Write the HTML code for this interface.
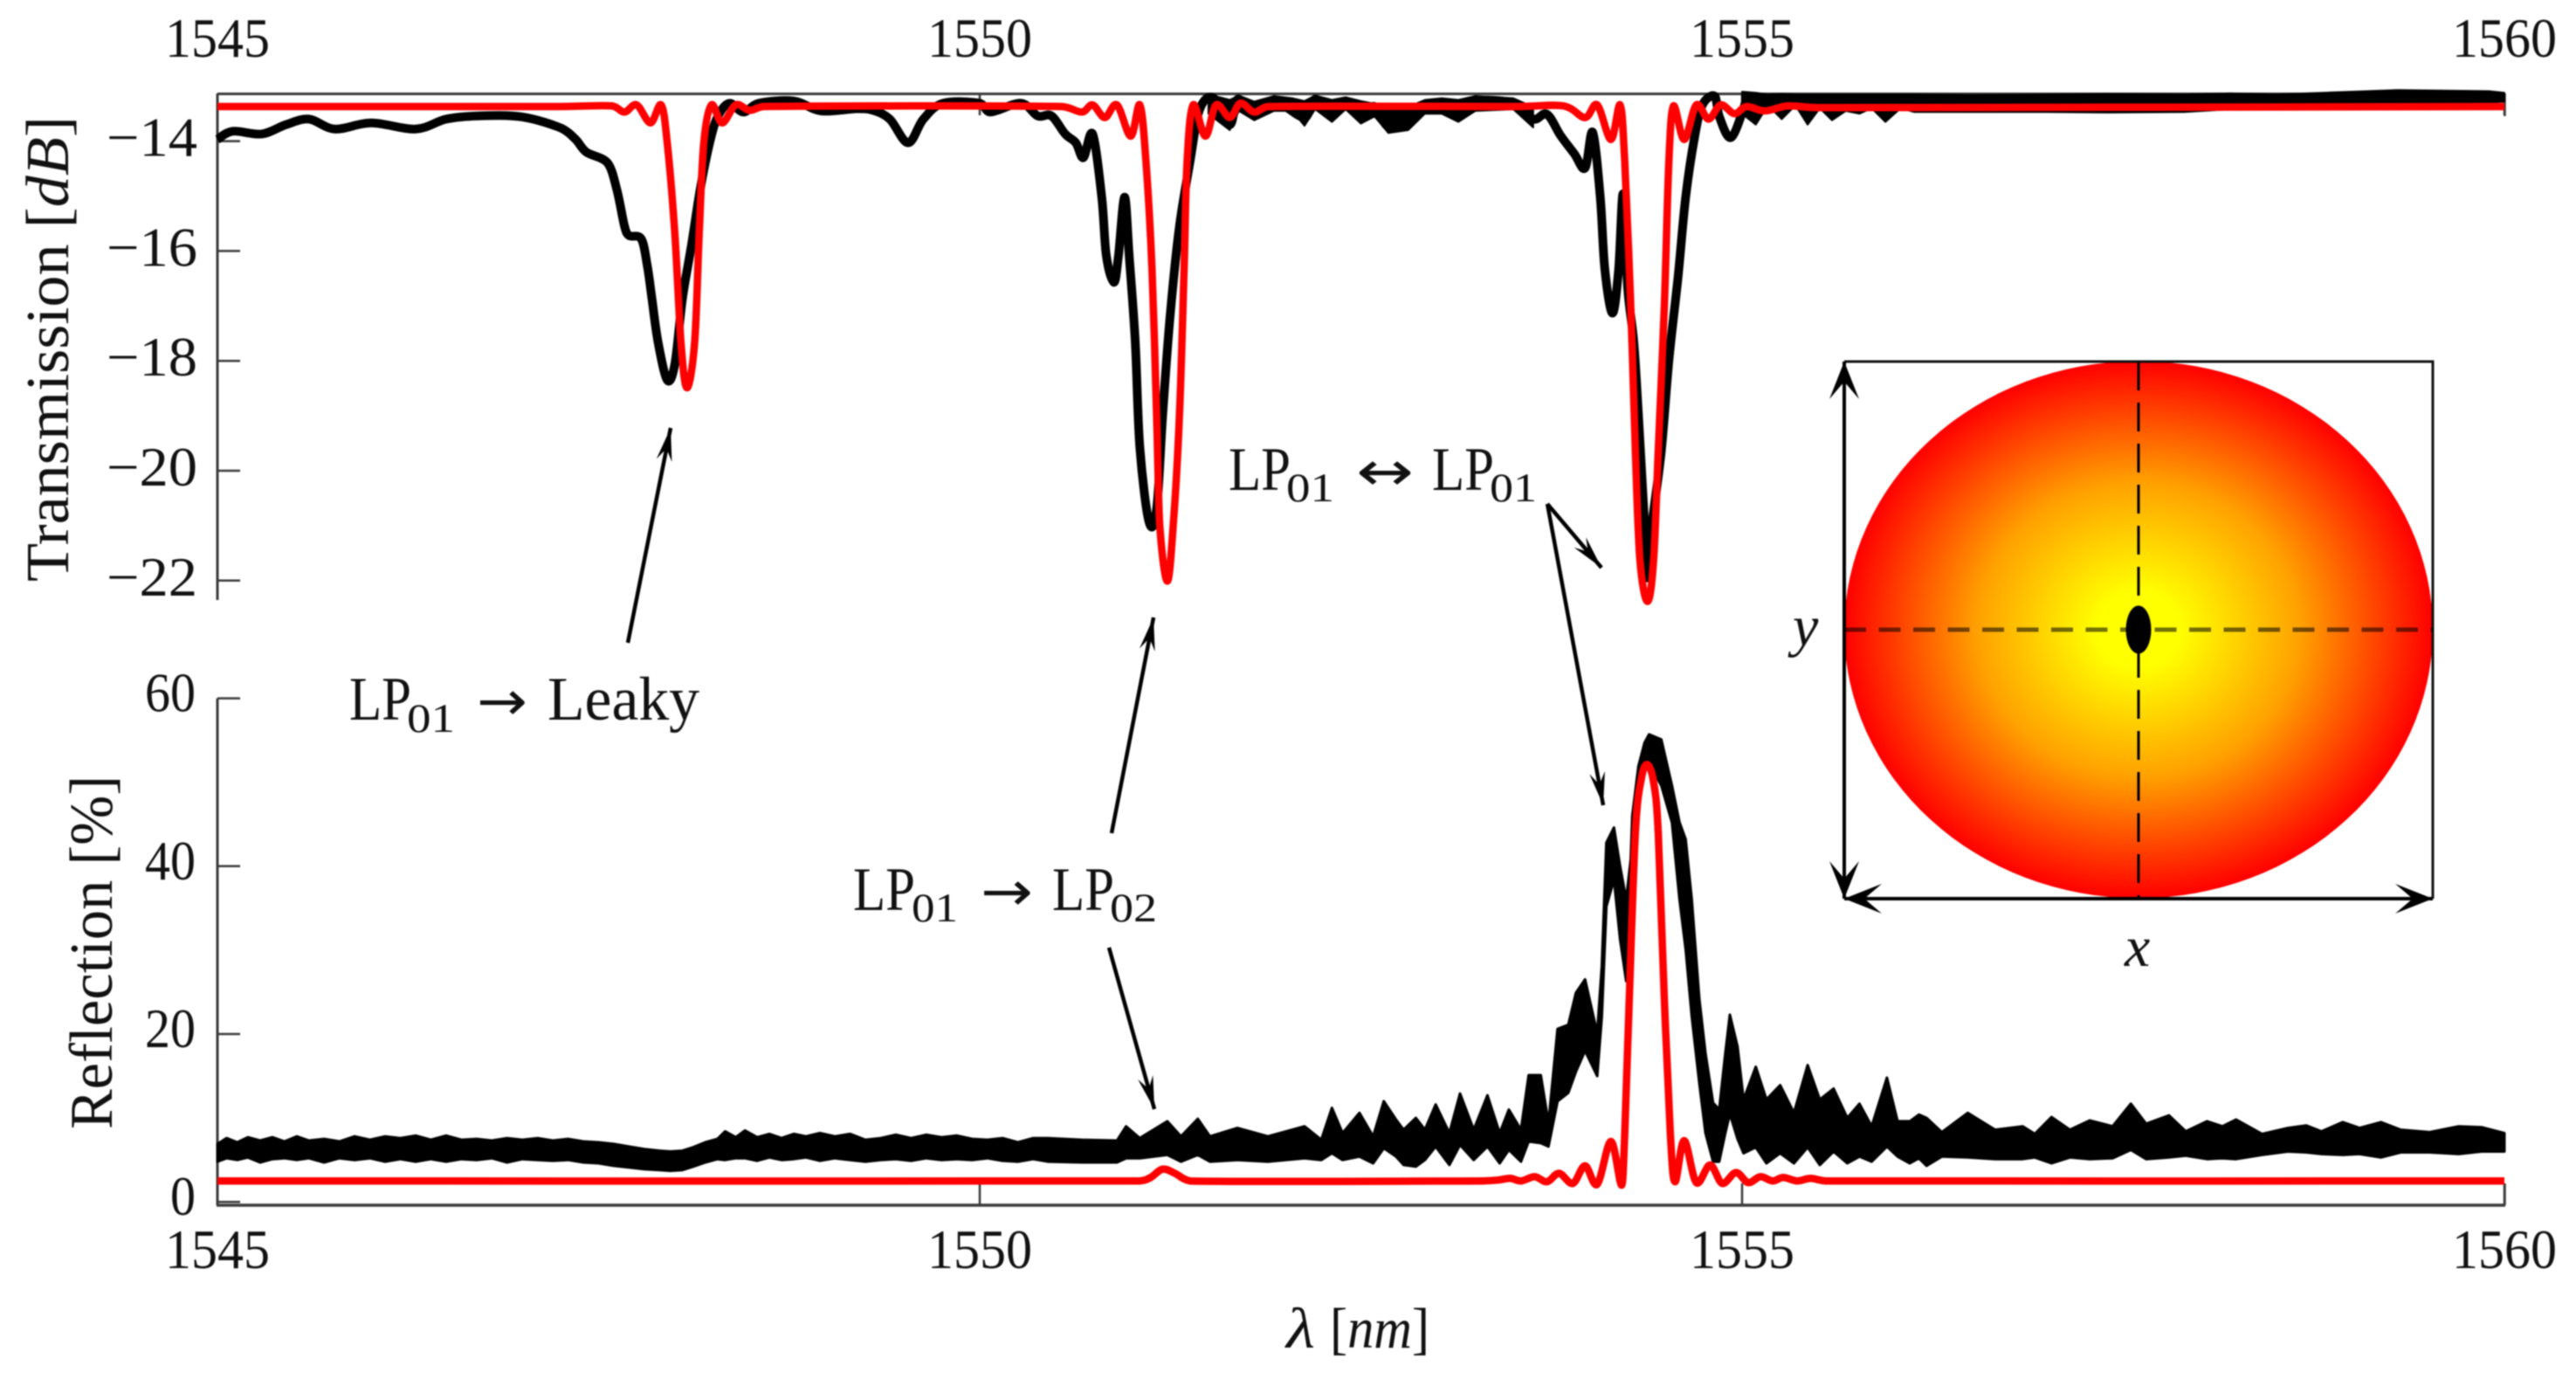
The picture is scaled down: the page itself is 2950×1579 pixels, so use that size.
<!DOCTYPE html>
<html lang="en">
<head>
<meta charset="utf-8">
<title>Transmission and reflection spectra</title>
<style>
html,body{margin:0;padding:0;background:#fff;width:2950px;height:1579px;overflow:hidden}
svg{display:block;filter:blur(0.7px)}
text{font-family:"Liberation Serif",serif;fill:#111}
</style>
</head>
<body>
<svg id="chart" xmlns="http://www.w3.org/2000/svg" width="2950" height="1579" viewBox="0 0 2950 1579">
<defs>
<radialGradient id="coreGrad" cx="50%" cy="50%" r="50%">
<stop offset="0" stop-color="#ffff00"/>
<stop offset="0.14" stop-color="#ffff00"/>
<stop offset="0.55" stop-color="#ffa000"/>
<stop offset="1" stop-color="#ff0000"/>
</radialGradient>
<marker id="thinHead" markerUnits="userSpaceOnUse" markerWidth="48" markerHeight="24" refX="40" refY="12" orient="auto">
<path d="M40 12 L2 3 L16 12 L2 21 Z" fill="#000"/>
</marker>
<marker id="bigHead" markerUnits="userSpaceOnUse" markerWidth="50" markerHeight="40" refX="45" refY="20" orient="auto-start-reverse">
<path d="M45 20 L2 3 L22 20 L2 37 Z" fill="#000"/>
</marker>
</defs>
<g id="axes"></g>
<g id="marks"></g>

<g>
<ellipse cx="2449" cy="721" rx="337" ry="307.5" fill="url(#coreGrad)"/>
<path d="M2112 414 H2786 V1029" fill="none" stroke="#111" stroke-width="3"/>
<line x1="2112" y1="721" x2="2786" y2="721" stroke="#000" stroke-opacity="0.55" stroke-width="5" stroke-dasharray="25 14.5"/>
<line x1="2449" y1="414" x2="2449" y2="1029" stroke="#000" stroke-width="3" stroke-dasharray="33 14"/>
<ellipse cx="2449" cy="721" rx="14.5" ry="27.5" fill="#000"/>
<line x1="2112" y1="414" x2="2112" y2="1029" stroke="#000" stroke-width="4" marker-start="url(#bigHead)" marker-end="url(#bigHead)"/>
<line x1="2112" y1="1029" x2="2786" y2="1029" stroke="#000" stroke-width="4" marker-start="url(#bigHead)" marker-end="url(#bigHead)"/>
<text x="2053" y="739" font-size="66" font-style="italic">y</text>
<text x="2433" y="1106" font-size="66" font-style="italic">x</text>
</g>

<g stroke="#000" stroke-width="4.5" fill="none">
<line x1="719" y1="736" x2="768" y2="490" marker-end="url(#thinHead)"/>
<line x1="1273" y1="954" x2="1321" y2="707" marker-end="url(#thinHead)"/>
<line x1="1270" y1="1085" x2="1322" y2="1270" marker-end="url(#thinHead)"/>
<line x1="1772" y1="577" x2="1834" y2="650" marker-end="url(#thinHead)"/>
<line x1="1772" y1="577" x2="1836" y2="922" marker-end="url(#thinHead)"/>
</g>

<g>
<text x="400" y="824" font-size="71" textLength="71" lengthAdjust="spacingAndGlyphs">LP</text>
<text x="466" y="838" font-size="47" textLength="55" lengthAdjust="spacingAndGlyphs">01</text>
<text x="546" y="824" font-size="62" textLength="58" lengthAdjust="spacingAndGlyphs" style="font-family:'DejaVu Sans',sans-serif">→</text>
<text x="627" y="824" font-size="71" textLength="174" lengthAdjust="spacingAndGlyphs">Leaky</text>
</g>
<g>
<text x="977" y="1042" font-size="71" textLength="71" lengthAdjust="spacingAndGlyphs">LP</text>
<text x="1044" y="1055" font-size="47" textLength="53" lengthAdjust="spacingAndGlyphs">01</text>
<text x="1123" y="1042" font-size="62" textLength="60" lengthAdjust="spacingAndGlyphs" style="font-family:'DejaVu Sans',sans-serif">→</text>
<text x="1205" y="1042" font-size="71" textLength="71" lengthAdjust="spacingAndGlyphs">LP</text>
<text x="1271" y="1055" font-size="47" textLength="54" lengthAdjust="spacingAndGlyphs">02</text>
</g>
<g>
<text x="1407" y="561" font-size="71" textLength="71" lengthAdjust="spacingAndGlyphs">LP</text>
<text x="1473" y="574" font-size="47" textLength="55" lengthAdjust="spacingAndGlyphs">01</text>
<text x="1553" y="561" font-size="62" textLength="66" lengthAdjust="spacingAndGlyphs" style="font-family:'DejaVu Sans',sans-serif">↔</text>
<text x="1640" y="561" font-size="71" textLength="71" lengthAdjust="spacingAndGlyphs">LP</text>
<text x="1706" y="574" font-size="47" textLength="54" lengthAdjust="spacingAndGlyphs">01</text>
</g>

<text transform="translate(78,666) rotate(-90)" font-size="70" textLength="533" lengthAdjust="spacingAndGlyphs">Transmission [<tspan font-style="italic">dB</tspan>]</text>
<text transform="translate(128,1293) rotate(-90)" font-size="70" textLength="405" lengthAdjust="spacingAndGlyphs">Reflection [%]</text>
<text x="1473" y="1543" font-size="66" textLength="33" lengthAdjust="spacingAndGlyphs" font-style="italic">λ</text>
<text x="1523" y="1543" font-size="66" textLength="114" lengthAdjust="spacingAndGlyphs">[<tspan font-style="italic">nm</tspan>]</text>
</svg>

<script>
const wavelengthTicks = [1545, 1550, 1555, 1560];
const transmissionTicks = [-14, -16, -18, -20, -22];
const reflectionTicks = [0, 20, 40, 60];

const tMeasLambda = [1545,1545.10,1545.29,1545.45,1545.60,1545.77,1546.01,1546.30,1546.50,1546.71,1547.00,1547.26,1547.35,1547.42,1547.56,1547.62,1547.67,1547.70,1547.78,1547.82,1547.85,1547.89,1547.95,1548.00,1548.05,1548.11,1548.17,1548.24,1548.29,1548.36,1548.45,1548.55,1548.78,1548.96,1549.19,1549.30,1549.41,1549.53,1549.63,1549.76,1550.00,1550.07,1550.27,1550.38,1550.47,1550.56,1550.63,1550.68,1550.74,1550.80,1550.83,1550.88,1550.91,1550.95,1550.98,1551.02,1551.05,1551.11,1551.16,1551.20,1551.25,1551.31,1551.38,1551.44,1551.53,1551.64,1551.69,1551.78,1551.93,1552.13,1552.20,1552.31,1552.40,1552.50,1552.59,1552.68,1552.81,1552.92,1553.14,1553.25,1553.50,1553.63,1553.72,1553.81,1553.90,1553.97,1554.02,1554.07,1554.10,1554.15,1554.19,1554.22,1554.25,1554.29,1554.32,1554.36,1554.38,1554.41,1554.47,1554.52,1554.58,1554.63,1554.69,1554.74,1554.82,1554.85,1554.93,1555.03];
const tMeasValues = [-13.97,-13.82,-13.87,-13.70,-13.60,-13.78,-13.67,-13.78,-13.60,-13.54,-13.56,-13.77,-13.97,-14.20,-14.40,-14.89,-15.55,-15.72,-15.78,-16.28,-16.87,-17.66,-18.35,-18.06,-16.87,-15.88,-14.82,-13.90,-13.51,-13.31,-13.47,-13.31,-13.27,-13.45,-13.41,-13.44,-13.60,-14.03,-13.60,-13.31,-13.31,-13.47,-13.31,-13.54,-13.54,-13.87,-14.03,-14.30,-13.87,-15.02,-16.08,-16.57,-16.08,-15.02,-16.08,-17.66,-19.57,-20.93,-20.70,-18.98,-17.13,-15.55,-14.36,-13.44,-13.21,-13.70,-13.24,-13.47,-13.27,-13.57,-13.24,-13.54,-13.27,-13.54,-13.37,-13.74,-13.64,-13.34,-13.51,-13.27,-13.31,-13.60,-13.51,-13.90,-14.23,-14.49,-13.84,-15.02,-16.34,-17.13,-16.34,-14.96,-16.67,-17.66,-18.98,-20.96,-21.95,-20.96,-19.64,-17.99,-16.47,-15.02,-13.90,-13.34,-13.18,-13.55,-13.93,-13.24];

const tMidBandLambda = [1551.50,1551.64,1551.70,1551.80,1551.93,1552.05,1552.13,1552.20,1552.31,1552.40,1552.50,1552.59,1552.68,1552.81,1552.92,1553.03,1553.14,1553.25,1553.50,1553.63];
const tMidBandUpper = [-13.15,-13.25,-13.17,-13.28,-13.18,-13.22,-13.27,-13.17,-13.25,-13.20,-13.27,-13.32,-13.42,-13.38,-13.25,-13.22,-13.25,-13.18,-13.22,-13.38];
const tMidBandLower = [-13.50,-13.80,-13.45,-13.62,-13.45,-13.45,-13.72,-13.42,-13.65,-13.42,-13.68,-13.55,-13.85,-13.80,-13.50,-13.50,-13.65,-13.45,-13.42,-13.75];

const tBandLambda = [1555.00,1555.09,1555.17,1555.26,1555.35,1555.43,1555.51,1555.59,1555.68,1555.77,1555.85,1555.94,1556.04,1556.13,1556.50,1557.00,1557.40,1557.90,1558.20,1558.50,1559.00,1559.30,1559.60,1559.90,1560.00];
const tBandUpper = [-13.10,-13.12,-13.15,-13.14,-13.15,-13.15,-13.15,-13.15,-13.15,-13.15,-13.15,-13.15,-13.15,-13.15,-13.16,-13.15,-13.14,-13.15,-13.13,-13.15,-13.10,-13.07,-13.08,-13.09,-13.12];
const tBandLower = [-13.50,-13.70,-13.35,-13.60,-13.35,-13.70,-13.40,-13.62,-13.45,-13.50,-13.40,-13.65,-13.40,-13.47,-13.47,-13.47,-13.48,-13.47,-13.42,-13.42,-13.35,-13.30,-13.30,-13.30,-13.28];

const tSimLambda = [1545,1547.20,1547.59,1547.67,1547.75,1547.84,1547.91,1547.95,1548.00,1548.04,1548.08,1548.13,1548.16,1548.19,1548.24,1548.31,1548.40,1548.49,1548.58,1550.54,1550.67,1550.74,1550.82,1550.90,1550.99,1551.05,1551.09,1551.13,1551.16,1551.18,1551.23,1551.27,1551.31,1551.34,1551.36,1551.40,1551.48,1551.55,1551.64,1551.71,1551.80,1551.89,1553.50,1553.83,1553.97,1554.05,1554.14,1554.20,1554.23,1554.27,1554.30,1554.33,1554.38,1554.42,1554.45,1554.49,1554.52,1554.55,1554.62,1554.70,1554.78,1554.86,1554.95,1555.03,1555.15,1555.30,1555.50,1560];
const tSimValues = [-13.37,-13.37,-13.36,-13.47,-13.34,-13.67,-13.34,-14.03,-15.68,-17.66,-18.49,-17.66,-15.68,-14.03,-13.34,-13.67,-13.34,-13.44,-13.37,-13.37,-13.47,-13.34,-13.57,-13.34,-13.91,-13.34,-14.36,-16.34,-18.98,-20.96,-22.01,-20.96,-18.98,-16.34,-14.36,-13.34,-13.91,-13.34,-13.57,-13.31,-13.47,-13.37,-13.37,-13.36,-13.57,-13.34,-13.97,-13.34,-14.36,-17.00,-19.64,-21.62,-22.38,-21.62,-19.64,-17.00,-14.36,-13.36,-13.97,-13.34,-13.60,-13.34,-13.50,-13.37,-13.45,-13.36,-13.39,-13.37];

const rMeasLambda = [1545.00,1545.06,1545.13,1545.20,1545.28,1545.36,1545.44,1545.52,1545.60,1545.70,1545.80,1545.90,1546.00,1546.10,1546.20,1546.30,1546.40,1546.50,1546.60,1546.70,1546.80,1546.90,1547.00,1547.10,1547.20,1547.30,1547.40,1547.50,1547.60,1547.70,1547.80,1547.90,1547.97,1548.05,1548.12,1548.20,1548.28,1548.33,1548.40,1548.46,1548.54,1548.62,1548.70,1548.78,1548.86,1548.95,1549.05,1549.15,1549.25,1549.35,1549.45,1549.55,1549.65,1549.75,1549.85,1549.95,1550.05,1550.15,1550.25,1550.35,1550.45,1550.67,1550.90,1550.96,1551.05,1551.23,1551.32,1551.43,1551.51,1551.69,1551.89,1552.13,1552.24,1552.31,1552.38,1552.49,1552.58,1552.65,1552.73,1552.78,1552.86,1552.92,1552.99,1553.08,1553.15,1553.24,1553.33,1553.41,1553.47,1553.55,1553.60,1553.68,1553.73,1553.79,1553.86,1553.91,1553.97,1554.05,1554.08,1554.11,1554.16,1554.20,1554.24,1554.27,1554.28,1554.32,1554.36,1554.39,1554.47,1554.54,1554.59,1554.63,1554.67,1554.72,1554.76,1554.81,1554.85,1554.89,1554.92,1554.97,1555.01,1555.09,1555.16,1555.25,1555.34,1555.43,1555.51,1555.60,1555.69,1555.77,1555.85,1555.95,1556.02,1556.10,1556.16,1556.21,1556.31,1556.48,1556.66,1556.84,1556.92,1557.03,1557.15,1557.28,1557.43,1557.55,1557.65,1557.80,1557.91,1558.05,1558.15,1558.24,1558.41,1558.58,1558.70,1558.80,1558.94,1559.05,1559.19,1559.32,1559.51,1559.70,1559.85,1560.00];
const rMeasUpper = [6.9,7.6,7.1,7.7,7.3,7.7,7.2,7.8,7.3,7.5,7.2,7.8,7.4,7.8,7.6,7.9,7.4,7.9,7.4,7.5,7.3,7.6,7.4,7.6,7.3,7.5,7.2,7.1,6.9,6.6,6.3,6.1,6.0,6.1,6.5,7.1,7.5,8.4,7.7,8.5,7.7,8.1,7.6,8.1,7.8,8.2,7.8,8.1,7.4,7.6,8.0,7.6,8.0,7.7,7.9,7.5,7.4,7.6,7.1,7.6,7.6,7.4,7.3,9.0,7.6,9.6,7.8,9.9,7.8,8.8,7.8,9.0,7.4,11.2,8.2,10.6,7.8,12.0,9.8,8.6,10.0,8.6,11.6,8.2,12.9,8.6,12.7,8.2,11.0,8.6,15.1,15.1,9.4,20.6,21.1,24.9,26.5,20.1,28.1,42.8,44.6,40.0,36.0,40.8,46.0,51.9,54.7,55.7,55.1,49.6,45.2,43.2,36.0,24.1,17.7,11.8,11.0,17.7,22.3,18.5,12.2,16.1,12.2,13.9,10.6,16.3,12.2,13.5,10.0,11.7,9.0,14.8,9.6,9.6,10.4,10.0,8.3,10.6,8.6,9.0,8.1,10.1,8.6,9.7,9.0,11.7,9.3,10.3,8.4,9.6,9.0,9.8,8.1,8.8,9.1,8.4,9.5,8.8,9.5,8.6,8.3,9.0,8.9,8.2];
const rMeasLower = [4.8,5.2,5.0,5.3,4.7,5.1,5.2,5.0,5.2,4.7,5.2,5.0,5.2,4.8,5.1,4.8,5.1,4.8,5.1,5.0,5.2,4.7,5.1,5.0,4.9,5.0,4.7,4.6,4.3,4.1,3.9,3.8,3.7,3.8,4.2,4.7,5.1,5.0,5.2,5.2,4.9,5.3,5.0,5.1,5.3,4.9,5.2,5.0,4.8,5.0,5.1,4.9,5.2,5.0,5.1,5.0,5.2,4.9,4.8,5.1,4.8,4.7,4.7,5.2,5.2,5.6,4.8,5.6,4.8,5.0,4.8,5.2,5.0,5.8,5.0,5.4,4.6,6.4,5.4,4.4,4.2,5.0,6.6,4.4,6.8,5.0,6.6,4.6,6.2,4.8,7.2,7.0,6.6,12.0,13.0,15.5,18.0,15.0,22.1,35.2,38.4,31.3,26.3,36.0,39.2,48.0,51.9,52.3,49.6,45.2,36.0,30.1,22.1,14.1,8.2,4.8,4.8,8.2,10.5,7.5,5.8,6.5,4.6,5.8,4.6,6.5,4.4,6.0,4.6,5.4,4.8,6.6,5.4,4.6,5.2,4.3,5.4,5.3,5.1,5.1,5.3,4.6,5.3,5.1,5.2,6.2,5.1,5.3,5.5,5.1,5.2,5.1,5.6,6.0,5.9,5.7,5.6,5.7,5.3,5.9,5.9,5.7,6.0,6.0];

const rSimLambda = [1545,1551.05,1551.12,1551.20,1551.28,1551.38,1553.30,1553.40,1553.48,1553.55,1553.64,1553.72,1553.80,1553.89,1553.97,1554.05,1554.14,1554.21,1554.23,1554.26,1554.30,1554.34,1554.38,1554.42,1554.45,1554.49,1554.53,1554.56,1554.62,1554.70,1554.79,1554.87,1554.96,1555.04,1555.12,1555.20,1555.27,1555.36,1555.45,1555.55,1560];
const rSimValues = [2.5,2.5,2.9,3.9,3.4,2.5,2.5,2.6,2.8,2.5,3.0,2.4,3.4,2.2,4.3,2.1,7.2,2.0,8.0,24.1,44.0,50.5,52.1,50.0,44.0,24.1,8.0,2.4,7.3,2.3,4.4,2.2,3.5,2.3,3.0,2.5,2.9,2.5,2.8,2.5,2.5];

const NS = 'http://www.w3.org/2000/svg';
const axesLayer = document.getElementById('axes');
const marksLayer = document.getElementById('marks');
const xScale = l => 249 + (l - 1545) * 174.6;
const yT = t => 161.6 + (-14 - t) * 62.9;
const yR = r => 1376.2 - r * 9.61;
const AX = '#3a3a3a';

function seg(parent, x1, y1, x2, y2, w) {
  const el = document.createElementNS(NS, 'line');
  
  
  el.setAttribute('x1', x1);
  el.setAttribute('y1', y1);
  el.setAttribute('x2', x2);
  el.setAttribute('y2', y2);
  el.setAttribute('stroke', AX);
  el.setAttribute('stroke-width', w);
  parent.appendChild(el);
}
function label(parent, str, x, y, anchor, len) {
  const el = document.createElementNS(NS, 'text');
  
  
  el.setAttribute('x', x);
  el.setAttribute('y', y);
  el.setAttribute('text-anchor', anchor);
  el.setAttribute('font-size', '63');
  el.setAttribute('textLength', len);
  el.setAttribute('lengthAdjust', 'spacingAndGlyphs');
  el.textContent = str;
  parent.appendChild(el);
}

// frame lines
seg(axesLayer, 249, 107.5, 2869, 107.5, 3);
seg(axesLayer, 249, 107, 249, 687, 3);
seg(axesLayer, 2868.5, 107, 2868.5, 133, 2.5);
seg(axesLayer, 249, yR(60), 249, 1380, 3);
seg(axesLayer, 248, 1380, 2869, 1380, 3.5);
seg(axesLayer, 2868.5, 1355, 2868.5, 1380, 2.5);

wavelengthTicks.forEach(v => {
  const x = xScale(v);
  seg(axesLayer, x, 107, x, 132, 2.5);
  seg(axesLayer, x, 1355, x, 1380, 2.5);
  label(axesLayer, String(v), x, 65, 'middle', 120);
  label(axesLayer, String(v), x, 1452, 'middle', 120);
});
transmissionTicks.forEach(v => {
  const y = yT(v);
  seg(axesLayer, 249, y, 275, y, 2.5);
  label(axesLayer, '\u2212' + Math.abs(v), 226, y + 17, 'end', 104);
});
reflectionTicks.forEach(v => {
  const y = yR(v);
  seg(axesLayer, 249, y, 275, y, 2.5);
  label(axesLayer, String(v), 224, y + 15, 'end', v === 0 ? 29 : 58);
});

function smoothPath(xs, ys, yFn) {
  const p = xs.map((l, i) => [xScale(l), yFn(ys[i])]);
  let d = 'M' + p[0][0].toFixed(1) + ' ' + p[0][1].toFixed(1);
  for (let i = 0; i < p.length - 1; i++) {
    const a = p[Math.max(0, i - 1)], b = p[i], c = p[i + 1], e = p[Math.min(p.length - 1, i + 2)];
    const k = 1 / 6;
    const dxMax = (c[0] - b[0]) * 0.5;
    const t1x = Math.min((c[0] - a[0]) * k, dxMax), t2x = Math.min((e[0] - b[0]) * k, dxMax);
    d += ' C' + (b[0] + t1x).toFixed(1) + ' ' + (b[1] + (c[1] - a[1]) * k).toFixed(1) + ' '
      + (c[0] - t2x).toFixed(1) + ' ' + (c[1] - (e[1] - b[1]) * k).toFixed(1) + ' '
      + c[0].toFixed(1) + ' ' + c[1].toFixed(1);
  }
  return d;
}
function bandPath(xs, up, lo, yFn) {
  const top = xs.map((l, i) => (i ? 'L' : 'M') + xScale(l).toFixed(1) + ' ' + yFn(up[i]).toFixed(1)).join(' ');
  const bot = xs.map((l, i) => i).reverse().map(i => 'L' + xScale(xs[i]).toFixed(1) + ' ' + yFn(lo[i]).toFixed(1)).join(' ');
  return top + ' ' + bot + ' Z';
}

const tMid = document.createElementNS(NS, 'path');


tMid.setAttribute('d', bandPath(tMidBandLambda, tMidBandUpper, tMidBandLower, yT));
tMid.setAttribute('fill', '#000');
tMid.setAttribute('stroke', '#000');
tMid.setAttribute('stroke-width', '2');
tMid.setAttribute('stroke-linejoin', 'round');
marksLayer.appendChild(tMid);

const tBand = document.createElementNS(NS, 'path');


tBand.setAttribute('d', bandPath(tBandLambda, tBandUpper, tBandLower, yT));
tBand.setAttribute('fill', '#000');
tBand.setAttribute('stroke', '#000');
tBand.setAttribute('stroke-width', '2');
tBand.setAttribute('stroke-linejoin', 'round');
marksLayer.appendChild(tBand);

const tMeas = document.createElementNS(NS, 'path');


tMeas.setAttribute('d', smoothPath(tMeasLambda, tMeasValues, yT));
tMeas.setAttribute('fill', 'none');
tMeas.setAttribute('stroke', '#000');
tMeas.setAttribute('stroke-width', '10');
tMeas.setAttribute('stroke-linejoin', 'round');
marksLayer.appendChild(tMeas);

const rMeas = document.createElementNS(NS, 'path');


rMeas.setAttribute('d', bandPath(rMeasLambda, rMeasUpper, rMeasLower, yR));
rMeas.setAttribute('fill', '#000');
rMeas.setAttribute('stroke', '#000');
rMeas.setAttribute('stroke-width', '3');
rMeas.setAttribute('stroke-linejoin', 'round');
marksLayer.appendChild(rMeas);

const tSim = document.createElementNS(NS, 'path');


tSim.setAttribute('d', smoothPath(tSimLambda, tSimValues, yT));
tSim.setAttribute('fill', 'none');
tSim.setAttribute('stroke', '#ff0000');
tSim.setAttribute('stroke-width', '8.5');
tSim.setAttribute('stroke-linejoin', 'round');
marksLayer.appendChild(tSim);

const rSim = document.createElementNS(NS, 'path');


rSim.setAttribute('d', smoothPath(rSimLambda, rSimValues, yR));
rSim.setAttribute('fill', 'none');
rSim.setAttribute('stroke', '#ff0000');
rSim.setAttribute('stroke-width', '8.5');
rSim.setAttribute('stroke-linejoin', 'round');
marksLayer.appendChild(rSim);
</script>
</body>
</html>
